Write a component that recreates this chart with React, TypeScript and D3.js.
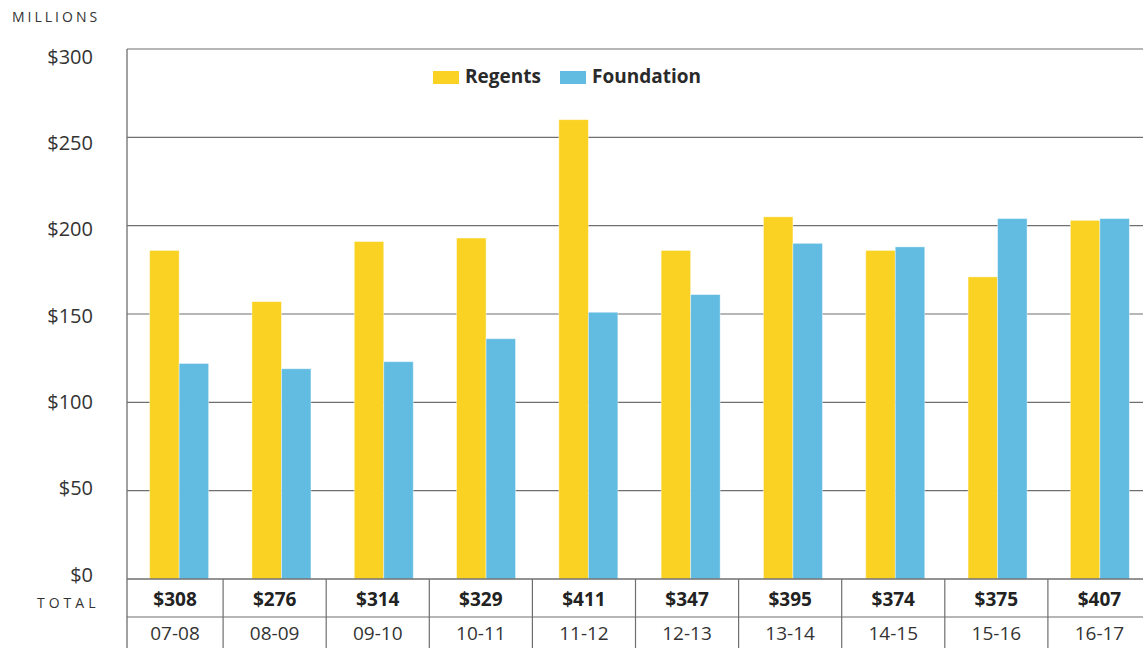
import * as d3 from "d3";
import { useMemo } from "react";

const years = ["07-08", "08-09", "09-10", "10-11", "11-12", "12-13", "13-14", "14-15", "15-16", "16-17"];
const regents = [186, 157, 191, 193, 260, 186, 205, 186, 171, 203];
const foundation = [122, 119, 123, 136, 151, 161, 190, 188, 204, 204];
const totals = ["$308", "$276", "$314", "$329", "$411", "$347", "$395", "$374", "$375", "$407"];
const yTicks = [0, 50, 100, 150, 200, 250, 300];

const WIDTH = 1143;
const HEIGHT = 648;
const FONT = "'Open Sans', 'DejaVu Sans', sans-serif";
const YELLOW = "#FAD224";
const BLUE = "#62BCE1";
const LINE = "#6f6f6f";

export default function App() {
  const plotLeft = 127;
  const plotTop = 49;
  const plotBottom = 579;

  // y axis: dollars in millions
  const yScale = useMemo(
    () => d3.scaleLinear().domain([0, 300]).range([plotBottom, plotTop]),
    []
  );

  // the tick labels in the original drift a little against the gridlines
  const labelShift = d3.scaleLinear().domain([0, 300]).range([-5, 7]);

  // groups of bars
  const xScale = useMemo(
    () => d3.scaleBand().domain(years).range([128, 1151]).padding(0),
    []
  );

  // table cells underneath are a touch wider than the bar groups
  const tableScale = useMemo(
    () => d3.scaleBand().domain(years).range([120, 1151]).padding(0),
    []
  );

  const barW = 29.5;
  const rowLine = 617;

  const bars = years.map((yr, i) => {
    const x0 = xScale(yr)!;
    const cx = x0 + xScale.bandwidth() / 2;
    return (
      <g key={yr}>
        <rect
          x={cx - barW}
          y={yScale(regents[i])}
          width={barW}
          height={plotBottom - yScale(regents[i])}
          fill={YELLOW}
          stroke="#fff"
          strokeOpacity={0.5}
          strokeWidth={0.8}
        />
        <rect
          x={cx}
          y={yScale(foundation[i])}
          width={barW}
          height={plotBottom - yScale(foundation[i])}
          fill={BLUE}
          stroke="#fff"
          strokeOpacity={0.5}
          strokeWidth={0.8}
        />
      </g>
    );
  });

  return (
    <svg
      width={WIDTH}
      height={HEIGHT}
      style={{ position: "absolute", left: 0, top: 0, background: "#fff" }}
      fontFamily={FONT}
    >
      <text x={12} y={22} fontSize={14} letterSpacing={3} fill="#333">
        MILLIONS
      </text>

      {/* gridlines */}
      {yTicks.map((t) => (
        <g key={t}>
          {t > 0 && (
            <line
              x1={plotLeft}
              x2={WIDTH}
              y1={yScale(t)}
              y2={yScale(t)}
              stroke={LINE}
              strokeWidth={1.2}
            />
          )}
          <text
            x={93}
            y={yScale(t) + labelShift(t)}
            textAnchor="end"
            dominantBaseline="central"
            fontSize={20}
            fill="#333"
          >
            ${t}
          </text>
        </g>
      ))}

      {bars}

      {/* legend */}
      <rect x={433} y={71} width={26} height={13} fill={YELLOW} />
      <text x={465} y={83} fontSize={19} fontWeight="bold" fill="#2a2a2a">
        Regents
      </text>
      <rect x={560} y={71} width={26} height={13} fill={BLUE} />
      <text x={592} y={83} fontSize={19} fontWeight="bold" fill="#2a2a2a">
        Foundation
      </text>

      {/* axes */}
      <line x1={plotLeft} x2={plotLeft} y1={plotTop} y2={HEIGHT} stroke={LINE} strokeWidth={1.3} />
      <line x1={plotLeft} x2={WIDTH} y1={plotBottom} y2={plotBottom} stroke={LINE} strokeWidth={1.3} />
      <line x1={plotLeft} x2={WIDTH} y1={rowLine} y2={rowLine} stroke={LINE} strokeWidth={1.2} />

      {/* totals table */}
      <text x={37} y={608} fontSize={14} letterSpacing={4} fill="#333">
        TOTAL
      </text>
      {years.map((yr, i) => {
        const x0 = tableScale(yr)!;
        const cx = Math.max(x0, plotLeft) / 2 + (x0 + tableScale.bandwidth()) / 2;
        return (
          <g key={yr}>
            {i > 0 && (
              <line x1={x0} x2={x0} y1={plotBottom} y2={HEIGHT} stroke={LINE} strokeWidth={1.2} />
            )}
            <text x={cx} y={606} textAnchor="middle" fontSize={19} fontWeight="bold" fill="#222">
              {totals[i]}
            </text>
            <text x={cx} y={640} textAnchor="middle" fontSize={19} fill="#333">
              {yr}
            </text>
          </g>
        );
      })}
    </svg>
  );
}
